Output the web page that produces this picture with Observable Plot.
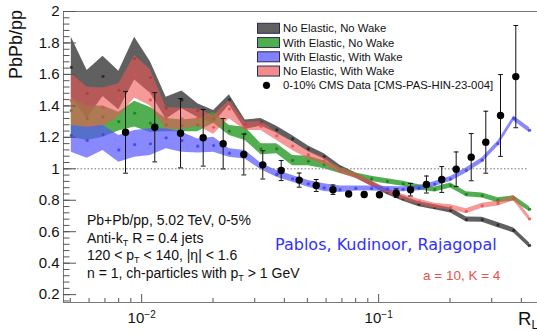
<!DOCTYPE html>
<html><head><meta charset="utf-8">
<script src="https://cdn.jsdelivr.net/npm/d3@7"></script>
<script src="https://cdn.jsdelivr.net/npm/@observablehq/plot@0.6"></script>
<style>
html,body{margin:0;padding:0;background:#fff;}
#chart{width:537px;height:332px;overflow:hidden;}
svg{font-family:"Liberation Sans",Arial,Helvetica,sans-serif;}
</style></head><body><div id="chart"></div>
<script>
// ---------- data ----------
const R = [0.00505,0.00589,0.00687,0.00801,0.00934,0.01089,0.01269,0.01480,0.01725,0.02012,0.02345,0.02735,0.03188,0.03717,0.04334,0.05053,0.05891,0.06869,0.08008,0.09337,0.1089,0.1269,0.1480,0.1725,0.2012,0.2345,0.2735,0.3188,0.3717,0.4335];

const grayMid = [1.645,1.48,1.588,1.50,1.70,1.58,1.385,1.438,1.37,1.33,1.438,1.28,1.296,1.248,1.19,1.127,1.078,1.006,0.957,0.905,0.851,0.809,0.775,0.755,0.735,0.677,0.676,0.642,0.608,0.513];
const grayHi  = [1.836,1.625,1.716,1.62,1.836,1.68,1.455,1.495,1.414,1.37,1.47,1.31,1.32,1.27,1.21,1.145,1.095,1.022,0.973,0.921,0.867,0.825,0.791,0.771,0.751,0.693,0.692,0.658,0.624,0.529];
const grayLo  = [1.454,1.32,1.46,1.375,1.564,1.48,1.315,1.381,1.326,1.29,1.406,1.25,1.272,1.226,1.17,1.109,1.061,0.99,0.941,0.889,0.835,0.793,0.759,0.739,0.719,0.661,0.660,0.626,0.592,0.497];

const greenMid = [1.37,1.32,1.33,1.30,1.353,1.29,1.28,1.275,1.28,1.318,1.239,1.222,1.127,1.127,1.053,1.048,1.027,0.99,0.957,0.936,0.92,0.905,0.882,0.868,0.894,0.838,0.83,0.80,0.812,0.743];
const greenHi  = [1.45,1.40,1.40,1.36,1.43,1.39,1.32,1.31,1.32,1.36,1.275,1.264,1.16,1.16,1.085,1.08,1.05,1.01,0.973,0.952,0.936,0.921,0.898,0.884,0.91,0.854,0.846,0.816,0.828,0.759];
const greenLo  = [1.20,1.18,1.20,1.24,1.265,1.23,1.235,1.235,1.235,1.29,1.212,1.18,1.09,1.095,1.02,1.02,1.00,0.97,0.941,0.92,0.904,0.889,0.866,0.852,0.878,0.822,0.814,0.784,0.796,0.727];

const pinkMid = [1.434,1.387,1.391,1.445,1.593,1.438,1.318,1.318,1.324,1.264,1.38,1.27,1.27,1.21,1.145,1.09,1.05,0.99,0.955,0.905,0.86,0.82,0.79,0.765,0.755,0.73,0.765,0.78,0.812,0.682];
const pinkHi  = [1.604,1.518,1.513,1.54,1.72,1.63,1.39,1.385,1.38,1.339,1.434,1.296,1.30,1.233,1.169,1.112,1.07,1.006,0.971,0.921,0.876,0.836,0.806,0.781,0.771,0.746,0.781,0.796,0.828,0.698];
const pinkLo  = [1.275,1.26,1.27,1.33,1.45,1.40,1.25,1.25,1.27,1.22,1.318,1.243,1.243,1.18,1.116,1.063,1.027,0.972,0.939,0.889,0.844,0.804,0.774,0.749,0.739,0.714,0.749,0.764,0.796,0.666];

const blueMid = [1.212,1.18,1.218,1.12,1.154,1.159,1.197,1.18,1.144,1.148,1.099,1.091,1.015,0.964,0.936,0.905,0.879,0.868,0.875,0.875,0.872,0.87,0.876,0.903,0.935,0.99,1.055,1.16,1.32,1.245];
const blueHi  = [1.275,1.264,1.275,1.212,1.243,1.254,1.254,1.233,1.19,1.201,1.127,1.116,1.036,0.989,0.957,0.926,0.905,0.89,0.891,0.891,0.888,0.886,0.892,0.919,0.951,1.006,1.071,1.176,1.336,1.261];
const blueLo  = [1.105,1.067,1.116,1.042,1.074,1.084,1.127,1.105,1.10,1.105,1.074,1.063,0.994,0.947,0.915,0.883,0.855,0.85,0.859,0.859,0.856,0.854,0.86,0.887,0.919,0.974,1.039,1.144,1.304,1.229];

const cmsR   = [0.00855,0.01136,0.01459,0.01818,0.02208,0.02698,0.03244,0.03879,0.04621,0.05452,0.06416,0.07471,0.0869,0.1008,0.1186,0.1363,0.1591,0.1846,0.2124,0.2458,0.2832,0.3267,0.379];
const cmsY   = [1.232,1.264,1.226,1.197,1.159,1.091,1.025,0.989,0.928,0.894,0.867,0.84,0.837,0.835,0.845,0.867,0.9,0.932,0.997,1.074,1.169,1.339,1.586];
const cmsErr = [0.26,0.22,0.22,0.18,0.16,0.13,0.09,0.064,0.045,0.038,0.03,0.015,0.015,0.015,0.027,0.04,0.054,0.082,0.11,0.15,0.197,0.26,0.325];

const xDomain = [0.00468, 0.468];
const yDomain = [0.15, 2];
const xMajor = [0.01, 0.1];
const xMinor = [0.005,0.006,0.007,0.008,0.009,0.02,0.03,0.04,0.05,0.06,0.07,0.08,0.09,0.2,0.3,0.4];
const yMajor = [0.2,0.4,0.6,0.8,1,1.2,1.4,1.6,1.8,2];
const yMinor = d3.range(0.16, 2.001, 0.04);
const refLine = {y: 1, from: 0.00468, to: 0.425};

const legendNames = ["No Elastic, No Wake","With Elastic, No Wake","With Elastic, With Wake","No Elastic, With Wake"];
const legendColors = ["#616161","#4fae4f","#8282ff","#f28c8c"];
const dataLabel = "0-10% CMS Data [CMS-PAS-HIN-23-004]";

// ---------- build ----------
const ser = (mid, lo, hi) => R.map((r, i) => ({r, mid: mid[i], lo: lo[i], hi: hi[i]}));
const models = [
  {fill: "#444444", op: 0.85, dot: "#262626", data: ser(grayMid, grayLo, grayHi)},
  {fill: "#33a033", op: 0.85, dot: "#1d7a1d", data: ser(greenMid, greenLo, greenHi)},
  {fill: "#ee5555", op: 0.6,  dot: "#e05050", data: ser(pinkMid, pinkLo, pinkHi)},
  {fill: "#5555ff", op: 0.7,  dot: "#4040e8", data: ser(blueMid, blueLo, blueHi)}
];
const cms = cmsR.map((r, i) => ({r, y: cmsY[i], e: cmsErr[i]}));
const caps = cms.flatMap(d => [{r: d.r, y: d.y - d.e}, {r: d.r, y: d.y + d.e}]);
const hline = {draw(ctx, size) { const w = Math.sqrt(size / Math.PI); ctx.moveTo(-w, 0); ctx.lineTo(w, 0); }};

const marks = [];
for (const m of models) {
  marks.push(Plot.areaY(m.data, {x: "r", y1: "lo", y2: "hi", fill: m.fill, fillOpacity: m.op}));
  marks.push(Plot.dot(m.data, {x: "r", y: "mid", r: 1.6, fill: m.dot, fillOpacity: 0.85}));
}
marks.push(
  Plot.ruleY([refLine], {y: "y", x1: "from", x2: "to", stroke: "#777", strokeWidth: 1, strokeDasharray: "1.6,1.9"}),
  Plot.ruleX(cms, {x: "r", y1: d => d.y - d.e, y2: d => d.y + d.e, stroke: "#111", strokeWidth: 1}),
  Plot.dot(caps, {x: "r", y: "y", r: 2.4, symbol: hline, stroke: "#111", fill: "none", strokeWidth: 1}),
  Plot.dot(cms, {x: "r", y: "y", r: 3.7, fill: "black"}),
  // frame
  Plot.ruleY([yDomain[0], yDomain[1]], {stroke: "#777", strokeWidth: 1}),
  Plot.ruleX([xDomain[0]], {stroke: "#777", strokeWidth: 1}),
  // axes
  Plot.axisX({ticks: xMajor, tickSize: -8, fill: "none", stroke: "#555", label: null}),
  Plot.axisX({ticks: xMinor, tickSize: -4, fill: "none", stroke: "#555", label: null}),
  Plot.axisX({ticks: xMajor, tickSize: 0, tickPadding: 9.5, fontSize: 15, fill: "#111",
    tickFormat: d => "10\u2212" + Math.round(-Math.log10(d)), label: null}),
  Plot.axisY({ticks: yMajor, tickSize: -13, fill: "none", stroke: "#555", label: null}),
  Plot.axisY({ticks: yMinor, tickSize: -6.5, fill: "none", stroke: "#555", label: null}),
  Plot.axisY({ticks: yMajor, tickSize: 0, tickPadding: 4, fontSize: 15, fill: "#111",
    tickFormat: d => String(+d.toFixed(1)), label: null})
);

const plot = Plot.plot({
  width: 537, height: 332,
  marginLeft: 63, marginRight: 0, marginTop: 11, marginBottom: 30,
  x: {type: "log", domain: xDomain},
  y: {domain: yDomain},
  style: {fontFamily: "'Liberation Sans', Arial, sans-serif", background: "#fff"},
  marks
});
document.getElementById("chart").appendChild(plot);

// superscripts on x tick labels
const svg = d3.select(plot);
svg.selectAll('g[aria-label="x-axis tick label"] text').each(function () {
  const s = this.textContent;
  this.textContent = "10";
  d3.select(this).append("tspan").attr("dy", "-0.45em").attr("font-size", "10px").text(s.slice(2));
});

// annotations
const g = svg.append("g").attr("fill", "#111").attr("text-anchor", "start")
  .attr("font-family", "'Liberation Sans', Arial, sans-serif");
// y title
g.append("text").attr("transform", "translate(22,10) rotate(-90)").attr("text-anchor", "end")
  .attr("font-size", "18px").text("PbPb/pp");
// x title
const xt = g.append("text").attr("x", 518).attr("y", 325).attr("font-size", "18.5px").text("R");
xt.append("tspan").attr("font-size", "12px").attr("dy", "4").text("L");

// left info block
function addParts(t, parts) {
  let prevSub = false;
  for (const [s, isSub] of parts) {
    if (isSub) t.append("tspan").attr("font-size", "9px").attr("dy", 3).text(s);
    else t.append("tspan").attr("dy", prevSub ? -3 : 0).text(s);
    prevSub = isSub;
  }
}
const info = [
  [["Pb+Pb/pp, 5.02 TeV, 0-5%", false]],
  [["Anti-k", false], ["T", true], [" R = 0.4 jets", false]],
  [["120 < p", false], ["T", true], [" < 140, |\u03b7| < 1.6", false]],
  [["n = 1, ch-particles with p", false], ["T", true], [" > 1 GeV", false]]
];
const infoBase = [225, 242.5, 260.2, 278.2];
info.forEach((parts, i) => {
  const t = g.append("text").attr("x", 87).attr("y", infoBase[i]).attr("font-size", "14px");
  addParts(t, parts);
});
g.append("text").attr("x", 275).attr("y", 249.5).attr("font-family", "'DejaVu Sans', sans-serif")
  .attr("font-size", "16px").attr("fill", "#3030ff").text("Pablos, Kudinoor, Rajagopal");
g.append("text").attr("x", 423).attr("y", 280).attr("font-size", "13.5px").attr("fill", "#e8524a").text("a = 10, K = 4");

// legend
const lg = svg.append("g").attr("text-anchor", "start")
  .attr("font-family", "'Liberation Sans', Arial, sans-serif").attr("font-size", "11.3px");
legendNames.forEach((name, i) => {
  const cy = 28.3 + i * 14.25;
  lg.append("rect").attr("x", 257.5).attr("y", cy - 5).attr("width", 22).attr("height", 10)
    .attr("fill", legendColors[i]).attr("stroke", "#2a2a50").attr("stroke-width", 1);
  lg.append("text").attr("x", 283).attr("y", cy).attr("dy", "0.36em").attr("fill", "#111").text(name);
});
const cyD = 28.3 + 4 * 14.25;
lg.append("circle").attr("cx", 266.5).attr("cy", cyD).attr("r", 3.6).attr("fill", "black");
lg.append("text").attr("x", 283).attr("y", cyD).attr("dy", "0.36em").attr("fill", "#111").text(dataLabel);
</script></body></html>
